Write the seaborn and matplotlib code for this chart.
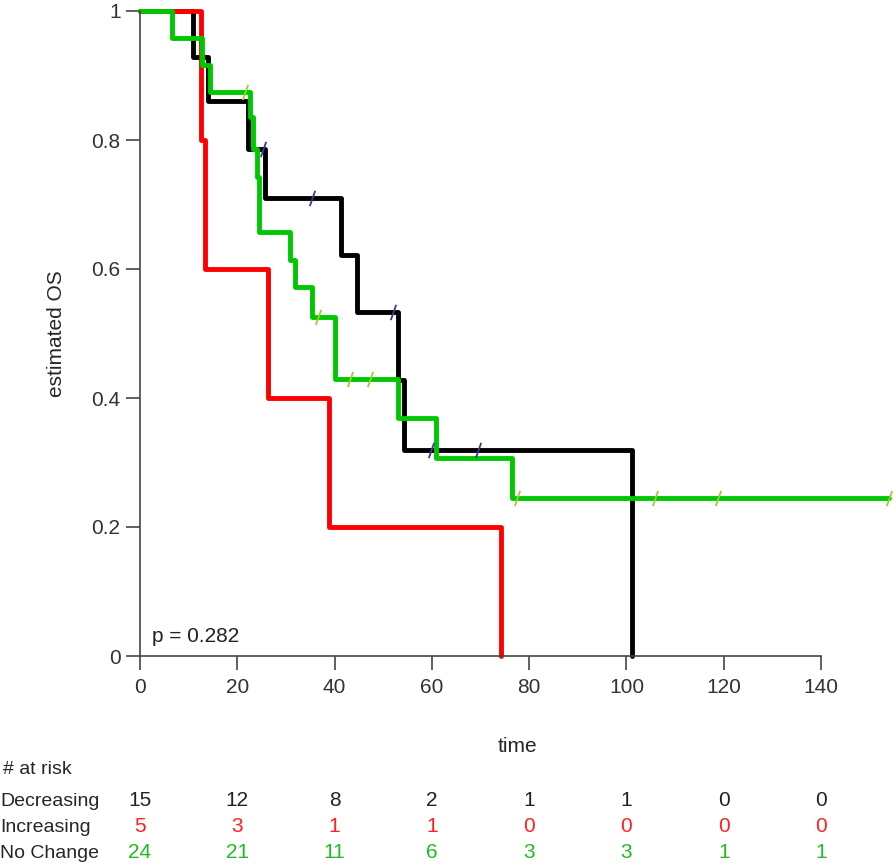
import pandas as pd
import matplotlib
matplotlib.use('Agg')
import matplotlib.pyplot as plt
import seaborn as sns

# Kaplan-Meier step points (time, survival)
dec_time = [0, 10.8, 14.0, 22.2, 25.6, 41.3, 44.6, 53.0, 54.3, 101.2]
dec_surv = [1, 0.929, 0.860, 0.786, 0.710, 0.622, 0.533, 0.428, 0.319, 0.0]
inc_time = [0, 12.6, 13.4, 26.3, 38.8, 74.2]
inc_surv = [1, 0.800, 0.600, 0.400, 0.200, 0.0]
noc_time = [0, 6.5, 12.7, 14.4, 22.6, 23.2, 24.0, 24.5, 30.8, 31.9, 35.4, 40.1, 53.0, 60.8, 76.4, 154.0]
noc_surv = [1, 0.958, 0.917, 0.875, 0.836, 0.786, 0.743, 0.657, 0.614, 0.572, 0.526, 0.430, 0.369, 0.307, 0.245, 0.245]

# censoring marks
dec_cens_t = [25.3, 35.4, 52.0, 59.8, 69.5]
dec_cens_s = [0.786, 0.710, 0.533, 0.319, 0.319]
noc_cens_t = [21.6, 36.6, 43.2, 47.3, 77.5, 105.9, 118.8, 154.0]
noc_cens_s = [0.875, 0.526, 0.430, 0.430, 0.245, 0.245, 0.245, 0.245]

groups = ['Decreasing', 'Increasing', 'No Change']
colors = {'Decreasing': '#000000', 'Increasing': '#ff0000', 'No Change': '#00c800'}
risk_times = [0, 20, 40, 60, 80, 100, 120, 140]
risk_dec = [15, 12, 8, 2, 1, 1, 0, 0]
risk_inc = [5, 3, 1, 1, 0, 0, 0, 0]
risk_noc = [24, 21, 11, 6, 3, 3, 1, 1]
p_text = 'p = 0.282'

df = pd.concat([
    pd.DataFrame({'time': dec_time, 'surv': dec_surv, 'group': 'Decreasing'}),
    pd.DataFrame({'time': inc_time, 'surv': inc_surv, 'group': 'Increasing'}),
    pd.DataFrame({'time': noc_time, 'surv': noc_surv, 'group': 'No Change'}),
])

sns.set_style('white')
plt.rcParams['font.family'] = ['Liberation Sans', 'DejaVu Sans']

fig = plt.figure(figsize=(8.96, 8.66), dpi=100)
W, H = 896, 866
ax = fig.add_axes([140 / W, 1 - 656 / H, 754 / W, 645 / H])

sns.lineplot(data=df, x='time', y='surv', hue='group', palette=colors,
             drawstyle='steps-post', estimator=None, sort=False,
             linewidth=3.5, legend=False, ax=ax)
for ln in ax.get_lines():
    ln.set_clip_on(False)

# censor ticks as short slashes
slash = [(-0.35, -1), (0.35, 1)]
ax.plot(dec_cens_t, dec_cens_s, ls='none', marker=slash, ms=11, mew=1.3,
        color='#3b3b8f', clip_on=False)
ax.plot(noc_cens_t, noc_cens_s, ls='none', marker=slash, ms=11, mew=1.3,
        color='#9acd32', clip_on=False)

ax.set_xlim(0, 155)
ax.set_ylim(0, 1)
ax.set_xticks(risk_times)
ax.set_yticks([0, 0.2, 0.4, 0.6, 0.8, 1])
ax.set_yticklabels(['0', '0.2', '0.4', '0.6', '0.8', '1'])
for s in ['top', 'right']:
    ax.spines[s].set_visible(False)
ax.spines['left'].set_bounds(0, 1)
ax.spines['bottom'].set_bounds(0, 140)
for s in ['left', 'bottom']:
    ax.spines[s].set_color('#444444')
    ax.spines[s].set_linewidth(1.2)
ax.tick_params(axis='both', direction='out', length=10, width=1.2,
               color='#444444', labelsize=15, labelcolor='#333333', pad=4,
               bottom=True, left=True)
ax.tick_params(axis='x', pad=6)
ax.set_xlabel('')
ax.set_ylabel('estimated OS', fontsize=15)
ax.yaxis.set_label_coords(-(140 - 66) / 754, 0.5)

ax.text(2.5, 0.03, p_text, fontsize=15, color='#222222', va='center', ha='left')

fig.text(517 / W, 1 - 747 / H, 'time', ha='center', va='center', fontsize=15)

# number at risk table
fig.text(3 / W, 1 - 770 / H, '# at risk', ha='left', va='center', fontsize=14)
rows = [('Decreasing', risk_dec, 801, '#222222'),
        ('Increasing', risk_inc, 827, '#ff2020'),
        ('No Change', risk_noc, 853, '#22bb22')]
trans = matplotlib.transforms.blended_transform_factory(ax.transData, fig.transFigure)
for name, vals, ypx, col in rows:
    fig.text(0 / W, 1 - ypx / H, name, ha='left', va='center', fontsize=14)
    for t, v in zip(risk_times, vals):
        ax.text(t, 1 - ypx / H, str(v), transform=trans, ha='center',
                va='center', fontsize=15, color=col, clip_on=False)

fig.savefig('out.png', dpi=100)
